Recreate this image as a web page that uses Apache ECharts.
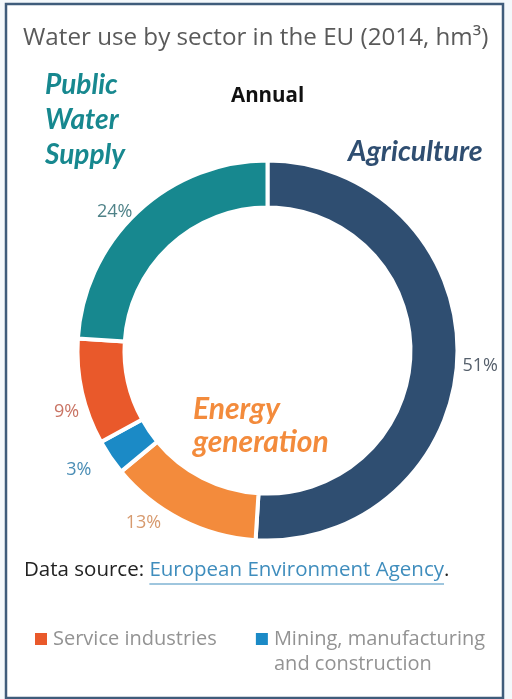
<!DOCTYPE html>
<html><head><meta charset="utf-8">
<script src="https://cdn.jsdelivr.net/npm/echarts@6/dist/echarts.min.js"></script>
<style>html,body{margin:0;padding:0;background:#f4f8fb;}#c{width:512px;height:699px;}</style>
</head><body><div id="c"></div>
<script>
const titleText = 'Water use by sector in the EU (2014, hm\u00B3)';
const subtitle = 'Annual';
const sectors = ['Agriculture','Energy generation','Mining, manufacturing and construction','Service industries','Public Water Supply'];
const shares = [51, 13, 3, 9, 24];
const colors = ['#2f4e71','#f38b3c','#1b8ac6','#e9592b','#17888f'];
const labelColors = ['#56606c','#d79a6e','#4a8db5','#c97464','#4f8288'];
const legendItems = ['Service industries','Mining, manufacturing and construction'];
const labelShift = [[0,9],[-15,3],[-14,13],[2,20],[0,0]];

const srcFont = '20.5px "Open Sans"';
const ctx = document.createElement('canvas').getContext('2d');
ctx.font = srcFont;
const w1 = ctx.measureText('Data source: ').width;
const w2 = ctx.measureText('European Environment Agency').width;

const chart = echarts.init(document.getElementById('c'));
chart.setOption({
  backgroundColor: 'transparent',
  animation: false,
  title: {
    text: titleText, left: 18, top: 21,
    textStyle: {fontFamily: 'Open Sans', fontWeight: 'normal', fontSize: 24.2, color: '#5a5a5a'}
  },
  legend: {
    data: legendItems,
    left: 33, top: 629, padding: 0, orient: 'horizontal', itemGap: 37,
    icon: 'rect', itemWidth: 14, itemHeight: 14,
    formatter: n => n === 'Mining, manufacturing and construction' ? 'Mining, manufacturing' : n,
    textStyle: {fontFamily: 'Open Sans', fontSize: 20, color: '#939393'}
  },
  graphic: [
    {type: 'rect', z: -10, shape: {x: 6, y: 4, width: 497, height: 694}, style: {fill: '#ffffff', stroke: '#3f5c7b', lineWidth: 2.5}},
    {type: 'text', left: 231, top: 86, style: {text: subtitle, font: 'bold 20.5px "Open Sans"', fill: '#111'}},
    {type: 'text', left: 45, top: 67, style: {text: 'Public\nWater\nSupply', font: 'italic bold 28px Lato', fill: '#17888f', lineHeight: 35}},
    {type: 'text', left: 348, top: 137, style: {text: 'Agriculture', font: 'italic bold 28.5px Lato', fill: '#2f4e71'}},
    {type: 'text', left: 193, top: 393, style: {text: 'Energy\ngeneration', font: 'italic bold 30px Lato', fill: '#f38b3c', lineHeight: 33}},
    {type: 'text', left: 274, top: 654, style: {text: 'and construction', font: '20px "Open Sans"', fill: '#939393'}},
    {type: 'text', left: 24, top: 560, style: {rich: {a: {font: srcFont, fill: '#222'}, b: {font: srcFont, fill: '#3f8dbd'}}, text: '{a|Data source: }{b|European Environment Agency}{a|.}'}},
    {type: 'line', shape: {x1: 24 + w1, y1: 584, x2: 24 + w1 + w2, y2: 584}, style: {stroke: '#3f8dbd', lineWidth: 1}}
  ],
  series: [{
    type: 'pie',
    center: [267.5, 350.5],
    radius: [143, 190],
    startAngle: 90,
    clockwise: true,
    avoidLabelOverlap: false,
    legendHoverLink: false,
    itemStyle: {borderColor: '#ffffff', borderWidth: 4},
    label: {show: true, position: 'outside', formatter: '{c}%', fontFamily: 'Open Sans', fontSize: 18},
    labelLine: {show: false, length: 0, length2: 0},
    labelLayout: p => ({dx: labelShift[p.dataIndex][0], dy: labelShift[p.dataIndex][1]}),
    data: sectors.map((s, i) => ({
      name: s, value: shares[i],
      itemStyle: {color: colors[i]},
      label: {color: labelColors[i]}
    }))
  }]
});
</script></body></html>
